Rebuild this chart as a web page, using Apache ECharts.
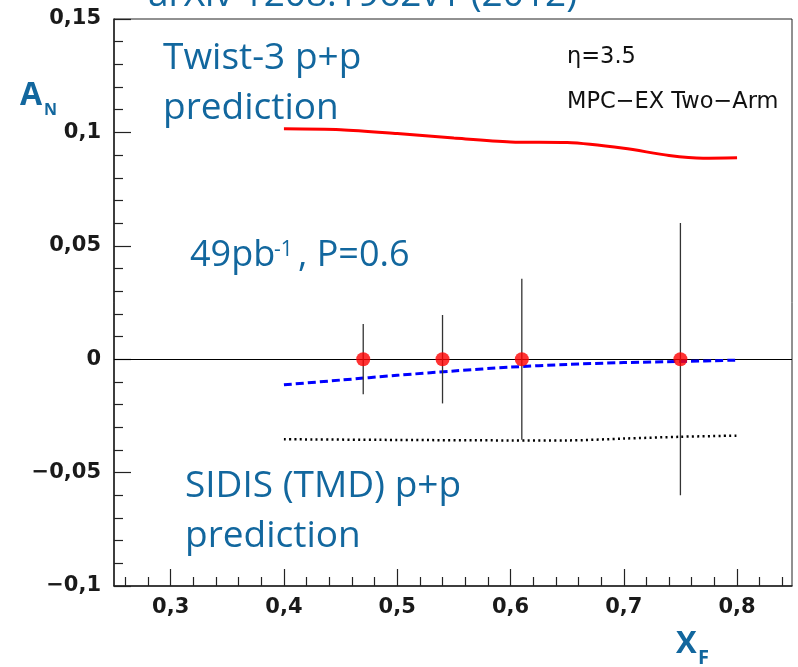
<!DOCTYPE html>
<html><head><meta charset="utf-8">
<script src="https://cdn.jsdelivr.net/npm/echarts@6/dist/echarts.min.js"></script>
<style>html,body{margin:0;padding:0;background:#fff}#c{width:798px;height:667px}</style>
</head><body><div id="c"></div>
<script>
// Twist-3 p+p prediction (red solid)
const xfTwist = [0.40, 0.45, 0.50, 0.55, 0.60, 0.65, 0.70, 0.74, 0.77, 0.80];
const anTwist = [0.1016, 0.1012, 0.0995, 0.0975, 0.0958, 0.0955, 0.0930, 0.0898, 0.0886, 0.0888];
// blue dashed curve
const xfDashed = [0.40, 0.45, 0.50, 0.55, 0.60, 0.65, 0.70, 0.75, 0.80];
const anDashed = [-0.0113, -0.0092, -0.0071, -0.0052, -0.0035, -0.0023, -0.0015, -0.0010, -0.0004];
// SIDIS (TMD) p+p prediction (black dotted)
const xfDotted = [0.40, 0.50, 0.60, 0.65, 0.70, 0.75, 0.80];
const anDotted = [-0.0353, -0.0356, -0.0358, -0.0358, -0.0350, -0.0342, -0.0337];
// projected points with errors
const xfPoints = [0.47, 0.54, 0.61, 0.75];
const anPoints = [0, 0, 0, 0];
const anErrors = [0.0155, 0.0195, 0.0355, 0.060];
// ticks
const xTickValues = [0.3, 0.4, 0.5, 0.6, 0.7, 0.8];
const xTickLabels = ['0,3', '0,4', '0,5', '0,6', '0,7', '0,8'];
const xMinorTickValues = [0.26, 0.28, 0.32, 0.34, 0.36, 0.38, 0.42, 0.44, 0.46, 0.48, 0.52, 0.54, 0.56, 0.58, 0.62, 0.64, 0.66, 0.68, 0.72, 0.74, 0.76, 0.78, 0.82, 0.84];
const yTickValues = [-0.1, -0.05, 0, 0.05, 0.1, 0.15];
const yTickLabels = ['\u22120,1', '\u22120,05', '0', '0,05', '0,1', '0,15'];

const X_MIN = 0.25, X_MAX = 0.8485;
const BLUE = '#12679e';
const OS = '"Open Sans", sans-serif';
const DJ = '"DejaVu Sans", sans-serif';

function lookup(vals, labels, v) {
  for (let i = 0; i < vals.length; i++) if (Math.abs(vals[i] - v) < 1e-9) return labels[i];
  return '';
}
function txt(text, x, baseline, size, opts) {
  opts = opts || {};
  const fam = opts.family || OS;
  const k = fam === OS ? 0.388 : 0.346;
  return {
    type: 'text', x: x, y: baseline - k * size, z: 100,
    style: {
      text: text, fill: opts.color || BLUE, fontSize: size, fontFamily: fam,
      fontWeight: opts.weight || 'normal', textAlign: 'left', textVerticalAlign: 'middle'
    }
  };
}

const chart = echarts.init(document.getElementById('c'), null, {renderer: 'canvas'});
const labelStyle = {fontFamily: DJ, fontWeight: 'bold', fontSize: 21, color: '#1a1a1a'};
chart.setOption({
  animation: false,
  backgroundColor: '#fff',
  grid: {left: 114, top: 19, width: 678, height: 567, show: true, borderColor: '#222', borderWidth: 1, backgroundColor: 'transparent'},
  xAxis: [{
    type: 'value', min: X_MIN, max: X_MAX, position: 'bottom',
    axisLine: {onZero: false, lineStyle: {color: '#222', width: 1.5}},
    axisTick: {inside: true, length: 17, customValues: xTickValues, lineStyle: {color: '#222', width: 1.2}},
    axisLabel: Object.assign({margin: 11, customValues: xTickValues,
      formatter: v => lookup(xTickValues, xTickLabels, v)}, labelStyle),
    splitLine: {show: false}
  }, {
    type: 'value', min: X_MIN, max: X_MAX, position: 'bottom',
    axisLine: {show: false, onZero: false},
    axisTick: {inside: true, length: 9, customValues: xMinorTickValues, lineStyle: {color: '#222', width: 1.2}},
    axisLabel: {show: false},
    splitLine: {show: false}
  }],
  yAxis: {
    type: 'value', min: -0.1, max: 0.15, interval: 0.05,
    axisLine: {show: true, onZero: false, lineStyle: {color: '#222', width: 1.5}},
    axisTick: {inside: true, length: 17, lineStyle: {color: '#222', width: 1.2}},
    minorTick: {show: true, splitNumber: 5, length: 9, lineStyle: {color: '#222', width: 1.2}},
    axisLabel: Object.assign({margin: 13, formatter: v => lookup(yTickValues, yTickLabels, v)}, labelStyle),
    splitLine: {show: false}, minorSplitLine: {show: false}
  },
  series: [
    {
      type: 'line', name: 'twist3', smooth: 0.3, showSymbol: false, symbol: 'none',
      data: xfTwist.map((x, i) => [x, anTwist[i]]),
      lineStyle: {color: '#ff0000', width: 3}, z: 5
    },
    {
      type: 'line', name: 'dashed', smooth: 0.3, symbol: 'none',
      data: xfDashed.map((x, i) => [x, anDashed[i]]),
      lineStyle: {color: '#0000ff', width: 3, type: [8, 4]}, z: 5
    },
    {
      type: 'line', name: 'sidis', smooth: 0.3, symbol: 'none',
      data: xfDotted.map((x, i) => [x, anDotted[i]]),
      lineStyle: {color: '#000', width: 2.5, type: [2, 3.3]}, z: 5
    },
    {
      type: 'custom', name: 'errors', z: 6,
      data: xfPoints.map((x, i) => [x, anPoints[i], anErrors[i]]),
      encode: {x: 0, y: 1},
      renderItem: function (params, api) {
        const x = api.value(0), y = api.value(1), e = api.value(2);
        const t = api.coord([x, y + e]), b = api.coord([x, y - e]);
        return {type: 'line', shape: {x1: t[0], y1: t[1], x2: b[0], y2: b[1]},
          style: {stroke: '#333', lineWidth: 1.3}};
      }
    },
    {
      type: 'scatter', name: 'points', z: 7,
      data: xfPoints.map((x, i) => [x, anPoints[i]]),
      symbolSize: 14, itemStyle: {color: '#ff0000'},
      markLine: {
        silent: true, symbol: ['none', 'none'], label: {show: false},
        lineStyle: {color: '#000', width: 1, type: 'solid'},
        data: [{yAxis: 0}]
      }
    }
  ],
  graphic: [
    txt('arXiv 1208.1962v1 (2012)', 148, 10, 37),
    txt('Twist-3 p+p', 163, 73, 37),
    txt('prediction', 163, 123, 37),
    txt('49pb', 190, 269.3, 36),
    txt('-1', 274, 258, 21),
    txt(', P=0.6', 298, 269.3, 36),
    txt('SIDIS (TMD) p+p', 185, 501, 37),
    txt('prediction', 185, 551, 37),
    txt('A', 20, 108, 32, {weight: 'bold'}),
    txt('N', 44, 117, 16, {weight: 'bold'}),
    txt('X', 676, 656, 31, {weight: 'bold'}),
    txt('F', 698, 666, 20, {weight: 'bold'}),
    txt('\u03b7=3.5', 567, 65, 22.5, {family: DJ, color: '#111'}),
    txt('MPC\u2212EX Two\u2212Arm', 567, 110, 22.5, {family: DJ, color: '#111'})
  ]
});
</script>
</body></html>
